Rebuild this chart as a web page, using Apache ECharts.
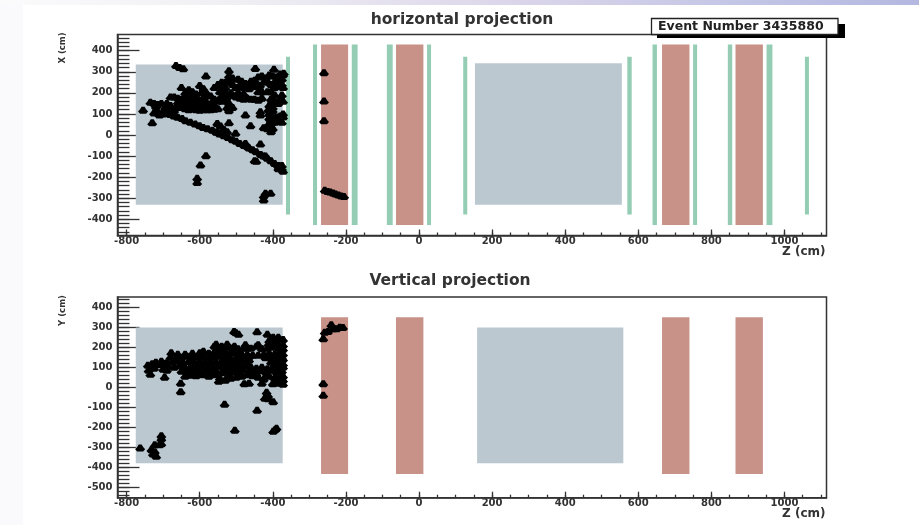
<!DOCTYPE html>
<html><head><meta charset="utf-8">
<script src="https://cdn.jsdelivr.net/npm/echarts@6/dist/echarts.min.js"></script>
<style>
html,body{margin:0;padding:0;width:919px;height:525px;overflow:hidden;background:#fff}
#bgTop{position:absolute;left:0;top:0;width:919px;height:5px;background:linear-gradient(90deg,#fbfbfc 0%,#f0f0f4 25%,#dcd6ea 55%,#c4c6e6 80%,#b4b8e0 100%)}
#bgLeft{position:absolute;left:0;top:5px;width:23px;height:520px;background:#fafafd}
#c{position:absolute;left:0;top:0;width:919px;height:525px;filter:blur(0.75px)}
</style></head><body>
<div id="bgTop"></div><div id="bgLeft"></div><div id="c"></div>
<script>
const titleTop = 'horizontal projection';
const titleBottom = 'Vertical projection';
const eventLabel = 'Event Number 3435880';
const xName = 'Z (cm)', yNameTop = 'X (cm)', yNameBottom = 'Y (cm)';
const zTicks = [-800,-600,-400,-200,0,200,400,600,800,1000];
const zMinor = [-800,-750,-700,-650,-600,-550,-500,-450,-400,-350,-300,-250,-200,-150,-100,-50,0,50,100,150,200,250,300,350,400,450,500,550,600,650,700,750,800,850,900,950,1000,1050,1100];
const xTicks = [-400,-300,-200,-100,0,100,200,300,400];
const xMinor = [-460,-440,-420,-400,-380,-360,-340,-320,-300,-280,-260,-240,-220,-200,-180,-160,-140,-120,-100,-80,-60,-40,-20,0,20,40,60,80,100,120,140,160,180,200,220,240,260,280,300,320,340,360,380,400,420,440,460];
const yTicks = [-500,-400,-300,-200,-100,0,100,200,300,400];
const yMinor = [-540,-520,-500,-480,-460,-440,-420,-400,-380,-360,-340,-320,-300,-280,-260,-240,-220,-200,-180,-160,-140,-120,-100,-80,-60,-40,-20,0,20,40,60,80,100,120,140,160,180,200,220,240,260,280,300,320,340,360,380,400,420,440];

// blocks: [zStart, zEnd, low, high]
const grayTop = [[-775,-373,-331,335],[153,555,-331,340]];
const redTop = [[-268,-194,-427,430],[-63,12,-427,430],[665,740,-427,430],[866,941,-427,430]];
const greenTop = [[-364,-353,-377,371],[-290,-279,-427,430],[-184,-168,-427,430],[-88,-72,-427,430],[22,33,-427,430],[121,132,-377,371],[570,582,-377,371],[639,651,-427,430],[750,761,-427,430],[845,857,-427,430],[951,967,-427,430],[1056,1067,-377,371]];
const grayBottom = [[-775,-373,-380,298],[159,559,-380,298]];
const redBottom = [[-268,-194,-433,350],[-63,12,-433,350],[665,740,-433,350],[866,941,-433,350]];

const hitsTop = [
[-665,330],[-655,320],[-645,315],[-755,118],[-730,58],[-583,280],[-520,305],[-448,316],[-397,312],[-370,293],[-583,-98],[-598,-142],[-607,-205],[-607,-226],[-420,-277],[-406,-277],[-425,-290],[-425,-308],
[-260,296],[-260,161],[-260,68],[-258,-262],[-250,-268],[-243,-270],[-235,-275],[-228,-280],[-220,-285],[-212,-290],[-205,-292],
[-700,112],[-690,105],[-680,97],[-670,90],[-660,84],[-648,78],[-638,68],[-625,60],[-612,52],[-600,44],[-590,36],[-578,30],[-565,22],[-555,13],[-545,5],[-533,-3],[-522,-12],[-510,-22],[-500,-30],[-490,-40],[-478,-50],[-465,-62],[-455,-70],[-445,-80],[-433,-92],[-425,-100],[-415,-110],[-405,-122],[-395,-135],[-385,-148],[-375,-160],[-372,-172],[-385,-160],[-450,-122],[-420,-100],[-445,-125],[-375,-145],[-385,-145],
[-475,-40],[-434,-43],[-470,-55],[-502,8],[-525,16],[-552,55],[-543,43],[-520,58],[-534,27],[-552,16],[-475,95],[-461,44],[-434,95],[-434,110],
[-735,155],[-725,150],[-715,145],[-720,135],[-705,150],[-695,130],[-690,150],[-680,140],[-670,125],[-660,135],[-650,130],[-640,125],[-630,120],[-620,125],[-610,120],[-600,118],[-590,120],[-580,120],[-570,120],[-560,122],[-550,125],[-690,120],[-680,110],[-670,115],[-715,110],[-710,95],[-700,100],[-725,105],
[-680,180],[-670,180],[-660,175],[-650,170],[-640,175],[-630,180],[-620,175],[-610,170],[-600,165],[-590,175],[-660,155],[-650,150],[-640,150],[-630,150],[-620,150],[-610,145],[-600,140],[-590,145],[-580,150],[-570,145],[-560,140],[-640,200],[-650,225],[-630,215],[-620,205],[-610,195],[-600,235],[-590,220],[-595,200],[-580,195],[-570,185],[-560,170],[-550,160],[-540,160],[-530,165],[-520,150],[-510,130],[-525,130],[-520,115],
[-560,225],[-550,240],[-540,250],[-530,225],[-520,255],[-510,240],[-500,225],[-490,235],[-480,225],[-470,240],[-460,255],[-450,260],[-440,275],[-430,280],[-420,270],[-410,285],[-400,280],[-390,275],[-380,290],[-372,285],[-375,265],[-385,255],[-395,250],[-405,240],[-415,255],[-425,250],[-435,235],[-445,230],[-455,230],[-465,220],[-475,245],[-485,255],[-495,265],[-510,270],[-520,280],[-530,250],[-540,215],[-545,205],[-530,200],[-515,200],[-500,180],[-490,175],[-480,170],[-470,175],[-460,170],[-450,170],[-440,165],[-430,175],[-540,185],[-525,180],[-510,190],[-495,200],[-480,195],[-375,240],[-372,225],[-385,235],[-395,225],[-405,205],[-415,205],[-430,205],[-440,205],[-375,190],[-380,170],[-372,160],[-395,190],[-405,170],[-395,160],
[-410,140],[-400,130],[-412,120],[-400,115],[-410,100],[-402,90],[-410,80],[-405,70],[-400,60],[-412,50],[-405,40],[-400,30],[-415,30],[-405,15],[-425,35],[-385,150],[-380,90],[-372,85],[-385,70],[-375,60],[-390,85],[-395,60],[-372,100]
];
const hitsBottom = [
[-763,-303],[-705,-242],[-705,-258],[-705,-283],[-723,-288],[-732,-312],[-723,-322],[-719,-345],[-728,-333],[-710,-288],[-652,-22],[-652,20],[-696,50],[-532,-85],[-504,-215],[-443,-115],[-399,-73],[-417,-25],[-413,-42],[-413,-58],[-422,-55],[-399,-220],[-390,-205],[-394,-213],[-501,272],[-494,265],[-506,278],[-443,277],[-415,265],[-399,250],[-385,250],[-372,238],
[-262,242],[-258,275],[-249,278],[-240,312],[-235,292],[-226,292],[-217,300],[-208,298],[-262,18],[-262,-40],
[-735,65],[-640,55],[-625,60],[-610,58],[-590,62],[-575,55],[-560,65],[-545,45],[-530,35],[-515,45],[-500,50],[-485,55],[-470,62],[-455,58],[-440,50],[-425,40],[-410,55],[-395,45],[-380,50],[-372,35],[-372,15],[-385,20],[-400,18],[-430,20],[-465,20],[-478,18],[-548,30],
[-740,85],[-725,95],[-650,80],[-635,75],[-620,82],[-605,78],[-590,85],[-570,75],[-555,80],[-540,72],[-525,82],[-510,75],[-495,78],[-480,85],[-465,80],[-450,75],[-435,82],[-420,78],[-405,85],[-390,75],[-375,80],
[-742,110],[-730,118],[-715,112],[-700,120],[-685,105],[-670,100],[-655,108],[-640,95],[-625,102],[-610,98],[-595,105],[-580,95],[-565,100],[-550,105],[-535,98],[-520,102],[-505,95],[-490,100],[-475,108],[-460,100],[-445,95],[-430,100],[-415,92],[-400,100],[-385,95],[-372,100],[-372,115],[-385,115],
[-720,125],[-705,130],[-690,122],[-675,128],[-660,130],[-645,122],[-630,128],[-615,125],[-600,130],[-585,122],[-570,128],[-555,125],[-540,130],[-525,122],[-510,128],[-495,125],[-480,130],[-465,135],[-405,125],[-392,120],
[-680,150],[-665,145],[-650,150],[-635,155],[-620,148],[-605,152],[-590,150],[-575,145],[-560,150],[-545,155],[-530,148],[-515,140],[-500,145],[-485,142],[-470,140],[-420,148],[-405,145],[-390,150],[-375,148],
[-678,172],[-660,165],[-640,165],[-620,170],[-600,172],[-590,180],[-575,170],[-560,175],[-545,170],[-530,178],[-515,170],[-500,178],[-485,165],[-470,162],[-455,160],[-440,160],[-425,162],[-410,170],[-395,165],[-380,170],[-372,165],
[-560,205],[-545,190],[-525,215],[-510,195],[-495,192],[-480,195],[-475,212],[-460,195],[-445,205],[-430,192],[-415,195],[-400,200],[-385,195],[-372,190],[-372,210],[-385,215],[-400,220],[-412,215],[-440,212],[-520,200],[-555,215],
[-700,90],[-690,85],[-600,70],[-555,62],[-520,60],[-490,68],[-445,65],[-415,65],[-378,65],[-372,55],[-375,30],[-390,30],[-610,112],[-575,112],[-540,115],[-505,112],[-470,118],[-395,108],[-378,130],[-372,140],[-600,158],[-565,160],[-530,160],[-495,158],[-465,152],[-378,180],[-390,205],[-410,232],[-395,238],[-378,225],[-470,195],[-505,205],[-540,205]
];

const GRAY='#bbc8d0', RED='#c89288', GREEN='#94cdb4', INK='#333';
const FONT='"DejaVu Sans"';
const HIT='path://M3.5,0 L6.5,0 L8,2.5 L10,4.5 L8,6.5 L2,6.5 L0,4.5 L2,2.5 Z';
const zRange=[-825,1115];
const gridsCfg=[{left:117.5,right:92.5,top:34.5,height:201},{left:117.5,right:92.5,top:297,height:200.7}];
const plain=v=>String(v);

function blocks(name,data,color,g,z){
  return {type:'custom',name,xAxisIndex:g*2,yAxisIndex:g*2,z,silent:true,clip:false,data,
    encode:{x:[0,1],y:[2,3]},
    renderItem(p,api){
      const a=api.coord([api.value(0),api.value(3)]),b=api.coord([api.value(1),api.value(2)]);
      return {type:'rect',shape:{x:a[0],y:a[1],width:b[0]-a[0],height:b[1]-a[1]},style:{fill:color}};
    }};
}
function hits(name,data,g){
  return {type:'scatter',name,xAxisIndex:g*2,yAxisIndex:g*2,z:10,silent:true,data,clip:false,
    symbol:HIT,symbolKeepAspect:false,symbolSize:[10,7],itemStyle:{color:'#000',opacity:1},animation:false};
}
function xAxes(g){
  const base={type:'value',gridIndex:g,min:zRange[0],max:zRange[1],splitLine:{show:false},position:'bottom'};
  return [
   {...base,name:xName,nameLocation:'end',nameGap:-1,nameMoveOverlap:false,nameTextStyle:{fontFamily:FONT,fontWeight:'bold',fontSize:12,color:INK,align:'right',verticalAlign:'top',padding:[10,0,0,0]},
    axisLine:{show:true,onZero:false,lineStyle:{color:INK,width:1.5}},
    axisTick:{show:true,inside:true,length:6,customValues:zTicks,lineStyle:{color:INK,width:1.3}},
    axisLabel:{show:true,customValues:zTicks,formatter:plain,margin:1,fontFamily:FONT,fontWeight:'bold',fontSize:10,color:INK}},
   {...base,axisLine:{show:false,onZero:false},
    axisTick:{show:true,inside:true,length:3,customValues:zMinor,lineStyle:{color:INK,width:1.3}},
    axisLabel:{show:false}}
  ];
}
function yAxes(g,range,ticks,minor,name){
  const base={type:'value',gridIndex:g,min:range[0],max:range[1],splitLine:{show:false},position:'left'};
  return [
   {...base,name,nameLocation:'end',nameRotate:90,nameGap:-13.5,nameMoveOverlap:false,
    nameTextStyle:{fontFamily:FONT,fontWeight:'bold',fontSize:8.5,color:INK,align:'center',verticalAlign:'bottom',padding:[0,0,50,0]},
    axisLine:{show:true,onZero:false,lineStyle:{color:INK,width:1.5}},
    axisTick:{show:true,inside:true,length:22,customValues:ticks,lineStyle:{color:INK,width:1.3}},
    axisLabel:{show:true,customValues:ticks,formatter:plain,margin:5,fontFamily:FONT,fontWeight:'bold',fontSize:10,color:INK}},
   {...base,axisLine:{show:false,onZero:false},
    axisTick:{show:true,inside:true,length:12,customValues:minor,lineStyle:{color:INK,width:1.3}},
    axisLabel:{show:false}}
  ];
}
const chart=echarts.init(document.getElementById('c'),null,{renderer:'canvas'});
chart.setOption({
  animation:false,
  backgroundColor:'transparent',
  title:[
   {text:titleTop,left:457,top:6,textAlign:'center',textStyle:{fontFamily:FONT,fontWeight:'bold',fontSize:15.5,lineHeight:18,color:INK}},
   {text:titleBottom,left:445,top:267,textAlign:'center',textStyle:{fontFamily:FONT,fontWeight:'bold',fontSize:15.5,lineHeight:18,color:INK}}
  ],
  grid:gridsCfg.map(c=>({...c,show:true,backgroundColor:'#fff',borderColor:INK,borderWidth:1.5})),
  xAxis:[...xAxes(0),...xAxes(1)],
  yAxis:[...yAxes(0,[-477,477],xTicks,xMinor,yNameTop),...yAxes(1,[-552,451],yTicks,yMinor,yNameBottom)],
  series:[
    blocks('gray top',grayTop,GRAY,0,2),blocks('red top',redTop,RED,0,2),blocks('green top',greenTop,GREEN,0,2),
    hits('hits top',hitsTop,0),
    blocks('gray bottom',grayBottom,GRAY,1,2),blocks('red bottom',redBottom,RED,1,2),
    hits('hits bottom',hitsBottom,1)
  ],
  graphic:[
    {type:'rect',z:50,shape:{x:657,y:24,width:188,height:14},style:{fill:'#000'}},
    {type:'rect',z:51,shape:{x:651.5,y:18.5,width:186.5,height:16},style:{fill:'#fff',stroke:'#222',lineWidth:1.3}},
    {type:'text',z:52,x:658,y:26.5,style:{text:eventLabel,fontFamily:FONT,fontWeight:'bold',fontSize:12.5,fill:'#222',verticalAlign:'middle'}}
  ]
});
</script>
</body></html>
